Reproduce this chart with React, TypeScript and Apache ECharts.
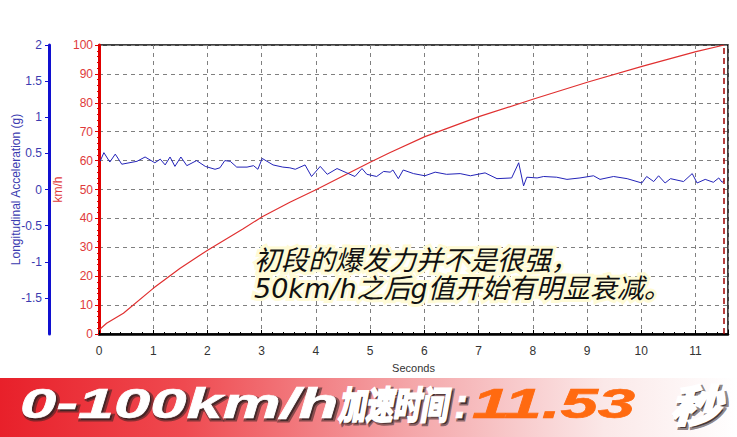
import React, { useEffect, useRef } from "react";
import * as echarts from "echarts";

// Speed (km/h) vs time (s)
const speedTime = [0, 0.14, 0.45, 1.0, 1.49, 2.01, 2.66, 3.01, 3.52, 4.01, 4.5, 5.0, 5.36, 6.01, 7.02, 8.03, 9.02, 10.03, 11.01, 11.53];
const speedValue = [1.4, 3.7, 7.2, 15.8, 22.7, 29.1, 36.4, 40.6, 45.6, 50.0, 54.7, 59.4, 62.7, 68.3, 75.3, 81.4, 87.2, 92.7, 97.7, 100];

// Longitudinal acceleration (g) vs time (s)
const accelTime = [0.02, 0.09, 0.2, 0.3, 0.42, 0.7, 0.85, 1.03, 1.13, 1.22, 1.31, 1.4, 1.51, 1.62, 1.8, 1.96, 2.14, 2.23, 2.32, 2.42, 2.54, 2.73, 2.85, 2.93, 3.01, 3.21, 3.39, 3.52, 3.62, 3.8, 3.92, 4.08, 4.21, 4.39, 4.57, 4.72, 4.85, 4.94, 5.12, 5.25, 5.37, 5.42, 5.52, 5.61, 5.8, 6.01, 6.2, 6.41, 6.66, 6.85, 7.12, 7.34, 7.61, 7.74, 7.83, 7.89, 8.08, 8.2, 8.44, 8.63, 8.87, 9.12, 9.24, 9.49, 9.74, 10.01, 10.1, 10.23, 10.32, 10.44, 10.54, 10.78, 10.94, 11.03, 11.18, 11.33, 11.43, 11.49, 11.53];
const accelValue = [0.39, 0.51, 0.38, 0.49, 0.35, 0.39, 0.45, 0.37, 0.42, 0.34, 0.45, 0.32, 0.45, 0.33, 0.4, 0.32, 0.28, 0.3, 0.4, 0.39, 0.31, 0.31, 0.33, 0.28, 0.43, 0.34, 0.31, 0.3, 0.28, 0.34, 0.18, 0.32, 0.21, 0.29, 0.23, 0.18, 0.29, 0.21, 0.18, 0.25, 0.24, 0.27, 0.15, 0.27, 0.22, 0.19, 0.24, 0.21, 0.22, 0.19, 0.23, 0.15, 0.16, 0.37, 0.05, 0.17, 0.16, 0.18, 0.17, 0.14, 0.16, 0.19, 0.14, 0.18, 0.15, 0.09, 0.18, 0.11, 0.19, 0.09, 0.15, 0.11, 0.22, 0.09, 0.14, 0.1, 0.16, 0.1, 0.12];

const finishTime = 11.53;
const annotationLines = ["初段的爆发力并不是很强，", "50km/h之后g值开始有明显衰减。"];
const bannerParts = ["0-100km/h", "加速时间", ":", "11.53", "秒"];

const LATIN = '"Liberation Sans", Arial, sans-serif';
const CJK = '"Noto Sans CJK SC", sans-serif';

function bannerText(text: string, x: number, scaleX: number, font: string, fill: string, withShadow: boolean, heavy: boolean) {
  const items: any[] = [];
  if (withShadow) {
    items.push({
      type: "text",
      z: 99,
      x: x + 2,
      y: 405,
      scaleX,
      silent: true,
      style: {
        text,
        font,
        fill: "rgba(50,35,35,0.8)",
        stroke: "rgba(50,35,35,0.55)",
        lineWidth: heavy ? 4 : 3,
        textVerticalAlign: "middle",
      },
    });
  }
  items.push({
    type: "text",
    z: 100,
    x,
    y: 403,
    scaleX,
    style: {
      text,
      font,
      fill,
      stroke: fill,
      lineWidth: heavy ? 2.4 : 0.6,
      textVerticalAlign: "middle",
    },
  });
  return items;
}

export default function App() {
  const ref = useRef<HTMLDivElement>(null);
  useEffect(() => {
    if (!ref.current) return;
    const chart = echarts.init(ref.current, null, { renderer: "svg" });
    const speedData = speedTime.map((t, i) => [t, speedValue[i]]);
    const accelData = accelTime.map((t, i) => [t, accelValue[i]]);
    chart.setOption({
      animation: false,
      backgroundColor: "#ffffff",
      grid: {
        left: 99,
        right: 9,
        top: 45,
        bottom: 103,
        show: true,
        borderColor: "#000",
        borderWidth: 1.5,
        containLabel: false,
        outerBoundsMode: "none",
      },
      xAxis: {
        type: "value",
        min: 0,
        max: 11.6,
        interval: 1,
        name: "Seconds",
        nameLocation: "middle",
        nameGap: 28,
        nameMoveOverlap: false,
        nameTextStyle: { color: "#333", fontSize: 11, fontFamily: LATIN },
        axisLine: { show: true, lineStyle: { color: "#000", width: 2.5 } },
        axisTick: { show: true, inside: true, length: 4, lineStyle: { color: "#000" } },
        minorTick: { show: true, splitNumber: 5, length: 2, lineStyle: { color: "#000" } },
        axisLabel: { color: "#333", fontSize: 12, margin: 11, fontFamily: LATIN, showMaxLabel: false },
        splitLine: { show: true, lineStyle: { color: "#808080", type: [4, 4], width: 1 } },
      },
      yAxis: [
        {
          type: "value",
          min: 0,
          max: 100,
          interval: 10,
          position: "left",
          offset: 0,
          name: "km/h",
          nameLocation: "middle",
          nameRotate: 90,
          nameGap: 35,
          nameMoveOverlap: false,
          nameTextStyle: { color: "#e03a3a", fontSize: 12, fontFamily: LATIN },
          axisLine: { show: true, lineStyle: { color: "#e00000", width: 3 } },
          axisTick: { show: true, length: 4, lineStyle: { color: "#e00000" } },
          minorTick: { show: true, splitNumber: 5, length: 2, lineStyle: { color: "#e00000" } },
          axisLabel: { color: "#e03a3a", fontSize: 12, margin: 6, fontFamily: LATIN },
          splitLine: { show: true, lineStyle: { color: "#808080", type: [4, 4], width: 1 } },
        },
        {
          type: "value",
          min: -2,
          max: 2,
          interval: 0.5,
          position: "left",
          offset: 50,
          name: "Longitudinal Acceleration (g)",
          nameLocation: "middle",
          nameRotate: 90,
          nameGap: 27,
          nameMoveOverlap: false,
          nameTextStyle: { color: "#3b3bb0", fontSize: 12, fontFamily: LATIN },
          axisLine: { show: true, lineStyle: { color: "#1010d0", width: 3 } },
          axisTick: { show: true, length: 4, lineStyle: { color: "#1010d0" } },
          axisLabel: { color: "#3b3bb0", fontSize: 12, margin: 7, fontFamily: LATIN, showMinLabel: false },
          splitLine: { show: false },
        },
      ],
      series: [
        {
          name: "Speed",
          type: "line",
          xAxisIndex: 0,
          yAxisIndex: 0,
          data: speedData,
          showSymbol: false,
          lineStyle: { color: "#e03030", width: 1.2 },
          markLine: {
            silent: true,
            symbol: "none",
            label: { show: false },
            lineStyle: { color: "#a00000", type: [6, 4], width: 1.5 },
            data: [{ xAxis: finishTime }],
          },
        },
        {
          name: "Acceleration",
          type: "line",
          xAxisIndex: 0,
          yAxisIndex: 1,
          data: accelData,
          showSymbol: false,
          lineStyle: { color: "#2323b8", width: 1 },
        },
      ],
      graphic: [
        {
          type: "text",
          x: 254,
          y: 246,
          z: 100,
          style: {
            text: annotationLines.join("\n"),
            font: `italic 27px "DejaVu Sans", ${CJK}`,
            lineHeight: 28,
            fill: "#111",
            stroke: "#fffbd6",
            lineWidth: 6,
            textAlign: "left",
            textVerticalAlign: "top",
          },
        },
        {
          type: "rect",
          z: 90,
          shape: { x: 0, y: 378, width: 737, height: 59 },
          style: {
            fill: new echarts.graphic.LinearGradient(0, 0, 1, 0, [
              { offset: 0, color: "#e8202a" },
              { offset: 0.25, color: "#ef4a50" },
              { offset: 0.55, color: "#f4a4a7" },
              { offset: 0.82, color: "#fbe8e8" },
              { offset: 1, color: "#ffffff" },
            ]),
          },
        },
        ...bannerText(bannerParts[0], 20, 1.55, `italic bold 42px ${LATIN}`, "#ffffff", true, false),
        ...bannerText(bannerParts[1], 338, 0.72, `italic bold 38px ${CJK}`, "#ffffff", true, true),
        ...bannerText(bannerParts[2], 454, 1, `italic bold 42px ${LATIN}`, "#ffffff", true, false),
        ...bannerText(bannerParts[3], 472, 1.6, `italic bold 42px ${LATIN}`, "#ff6a10", false, false),
        ...bannerText(bannerParts[4], 670, 1.15, `italic bold 44px ${CJK}`, "#ffffff", true, true),
      ],
    });
    return () => chart.dispose();
  }, []);
  return (
    <div
      ref={ref}
      style={{ position: "fixed", left: 0, top: 0, width: 737, height: 437 }}
    />
  );
}
